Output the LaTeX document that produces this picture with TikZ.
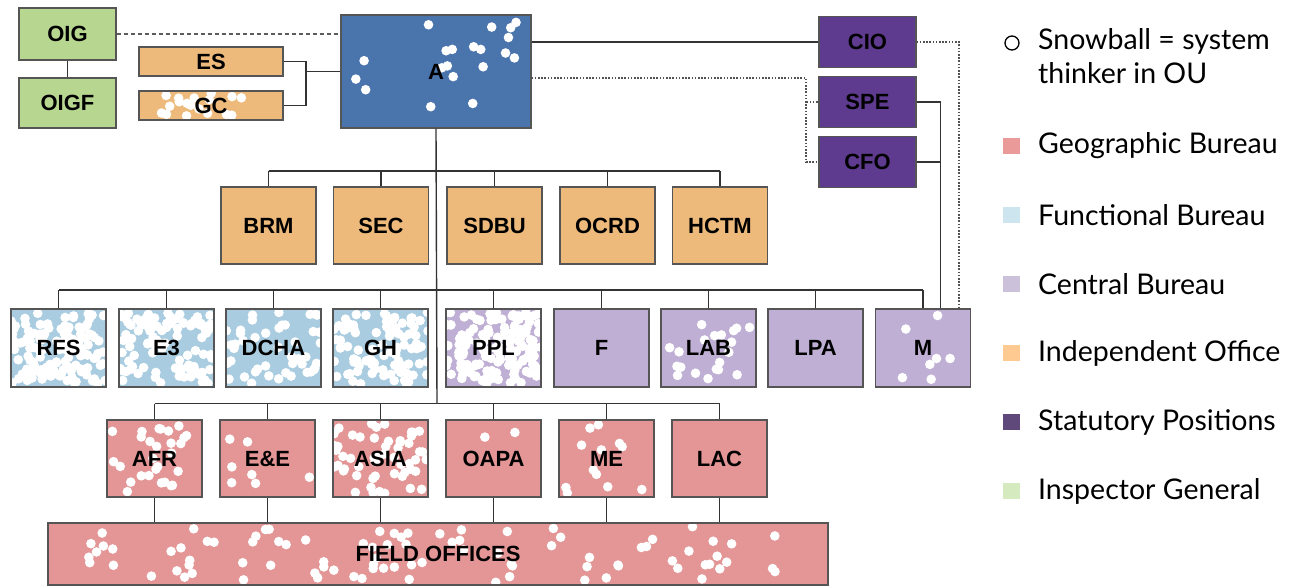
\documentclass[tikz,border=0pt]{standalone}
\usepackage{fontspec}
\setmainfont{Liberation Sans}
\newfontfamily\legfont{Lato}
\usetikzlibrary{calc}
\definecolor{boxc}{HTML}{555555}
\definecolor{wirec}{HTML}{333333}
\definecolor{afill}{HTML}{4A74AC}
\definecolor{inspc}{HTML}{B7D791}
\definecolor{indepc}{HTML}{EDBA7C}
\definecolor{statc}{HTML}{5E3B8E}
\definecolor{funcc}{HTML}{A9CCE0}
\definecolor{centc}{HTML}{BFAFD4}
\definecolor{geoc}{HTML}{E49696}
\definecolor{leggeo}{HTML}{EB9A9A}
\definecolor{legfunc}{HTML}{CDE5EF}
\definecolor{legcent}{HTML}{CCC1DB}
\definecolor{legindep}{HTML}{FFC992}
\definecolor{legstat}{HTML}{5F497A}
\definecolor{leginsp}{HTML}{D6EAC0}
\def\wire{\draw[wirec,line width=1.4pt]}
\def\dotwire{\draw[wirec!85,line width=2pt,dash pattern=on 1.6pt off 1.6pt]}
\tikzset{
  box/.style={draw=boxc,line width=1.3pt,inner sep=0pt,minimum width=95pt,minimum height=77pt,
    font=\bfseries\fontsize{22}{22}\selectfont},
  insp/.style={box,fill=inspc},
  indep/.style={box,fill=indepc},
  stat/.style={box,fill=statc,minimum width=97pt,minimum height=51pt},
  func/.style={box,fill=funcc,minimum height=78pt},
  cent/.style={box,fill=centc,minimum height=78pt},
  geo/.style={box,fill=geoc},
  snow/.style n args={4}{path picture={\pgfmathsetseed{#2}
    \path (path picture bounding box.south west) coordinate (pa)
          (path picture bounding box.north east) coordinate (pb);
    \foreach \k in {1,...,#1}{
      \pgfmathsetmacro\rx{#3+(#4-#3)*rnd}\pgfmathsetmacro\ry{0.04+0.92*rnd}
      \coordinate (sx) at ($(pa)!\rx!(pa -| pb)$);
      \coordinate (sy) at ($(pa)!\ry!(pa |- pb)$);
      \fill[white] (sx |- sy) circle[radius=4.8pt];}}},
  legsq/.style={minimum width=17pt,minimum height=16pt,inner sep=0pt},
  legtxt/.style={anchor=west,font=\legfont\fontsize{28.5}{34}\selectfont,align=left,inner sep=0pt}
}
\begin{document}
\begin{tikzpicture}[x=1pt,y=-1pt]
\useasboundingbox (0,0) rectangle (1302,587);
\node[insp,minimum width=97pt,minimum height=52pt] (OIG) at (67.5,34) {OIG};
\node[insp,minimum width=97pt,minimum height=50pt] (OIGF) at (67.5,103) {OIGF};
\node[indep,minimum width=144pt,minimum height=29pt] (ES) at (211,61.5) {ES};
\node[indep,minimum width=144pt,minimum height=29pt,snow={18}{7}{0.12}{0.72}] (GC) at (211,105.5) {GC};
\node[box,fill=afill,minimum width=190pt,minimum height=113pt,snow={20}{3}{0.05}{0.95}] (A) at (436,71.5) {A};
\node[stat] (CIO) at (867.5,42) {CIO};
\node[stat] (SPE) at (867.5,102) {SPE};
\node[stat] (CFO) at (867.5,162) {CFO};
\foreach \n/\x in {BRM/268.5,SEC/381,SDBU/494.5,OCRD/607.5,HCTM/720}
  \node[indep] (\n) at (\x,225.5) {\n};
\node[func,snow={130}{11}{0}{1}] (RFS) at (58.5,348) {RFS};
\node[func,snow={100}{12}{0}{1}] (E3) at (166.5,348) {E3};
\node[func,snow={45}{13}{0}{1}] (DCHA) at (273.5,348) {DCHA};
\node[func,snow={95}{14}{0}{1}] (GH) at (380.5,348) {GH};
\node[cent,snow={140}{15}{0}{1}] (PPL) at (493.5,348) {PPL};
\node[cent] (F) at (601.5,348) {F};
\node[cent,snow={20}{16}{0.04}{0.96}] (LAB) at (708.5,348) {LAB};
\node[cent] (LPA) at (815.5,348) {LPA};
\node[cent,snow={7}{17}{0.2}{0.9}] (M) at (923,348) {M};
\node[geo,snow={28}{21}{0.05}{0.95}] (AFR) at (154.5,458.5) {AFR};
\node[geo,snow={7}{22}{0.05}{0.95}] (EE) at (267.5,458.5) {E\&E};
\node[geo,snow={55}{23}{0}{1}] (ASIA) at (380.5,458.5) {ASIA};
\node[geo,snow={2}{24}{0.3}{0.9}] (OAPA) at (493.5,458.5) {OAPA};
\node[geo,snow={12}{25}{0.05}{0.95}] (ME) at (606.5,458.5) {ME};
\node[geo] (LAC) at (719.5,458.5) {LAC};
\node[geo,minimum width=780pt,minimum height=62pt,snow={90}{31}{0.05}{0.95}] (FO) at (438,554) {FIELD OFFICES};
\coordinate (busO) at (437,171);
\coordinate (busB) at (437,290);
\coordinate (busG) at (437,403.5);
\coordinate (esgc) at (306,71.5);
\coordinate (mtap) at ([xshift=17.5pt]M.north);
\wire (OIG) -- (OIGF);
\draw[wirec!80,line width=1.4pt,dash pattern=on 4pt off 3pt] (OIG.east) -- (OIG.east -| A.west);
\wire (ES.east) -| (esgc) |- (GC.east);
\wire (esgc) -- (A.west);
\wire (A.east |- CIO.west) -- (CIO.west);
\dotwire ([yshift=-6.5pt]A.east) -| ([xshift=-12pt]CFO.west) -- (CFO.west);
\dotwire ([xshift=-12pt]SPE.west) -- (SPE.west);
\dotwire (CIO.east) -| ([xshift=-12pt]M.north east);
\wire (SPE.east) -| (mtap);
\wire (CFO.east) -- (mtap |- CFO.east);
\wire (A.south) -- (busG);
\wire (BRM.north |- busO) -- (HCTM.north |- busO);
\wire (RFS.north |- busB) -- (M.north |- busB);
\wire (AFR.north |- busG) -- (LAC.north |- busG);
\foreach \n in {BRM,SEC,SDBU,OCRD,HCTM}
  \wire (\n.north) -- (\n.north |- busO);
\foreach \n in {RFS,E3,DCHA,GH,PPL,F,LAB,LPA,M}
  \wire (\n.north) -- (\n.north |- busB);
\foreach \n in {AFR,EE,ASIA,OAPA,ME,LAC}{
  \wire (\n.north) -- (\n.north |- busG);
  \wire (\n.south) -- (\n.south |- FO.north);}
\node[circle,draw,line width=1.3pt,minimum size=14pt,inner sep=0pt] (snowkey) at (1012,43) {};
\node[legtxt] (snowtxt) at (1038,56) {Snowball = system\\thinker in OU};
\foreach \c/\t/\y [count=\i] in {leggeo/Geographic Bureau/146,legfunc/Functional Bureau/215,
    legcent/Central Bureau/284,legindep/Independent Office/353,legstat/Statutory Positions/422,
    leginsp/Inspector General/491}{
  \node[legsq,fill=\c] (key\i) at (1011.5,\y) {};
  \node[legtxt] (lab\i) at (1038,\y) {\t};}
\end{tikzpicture}
\end{document}
